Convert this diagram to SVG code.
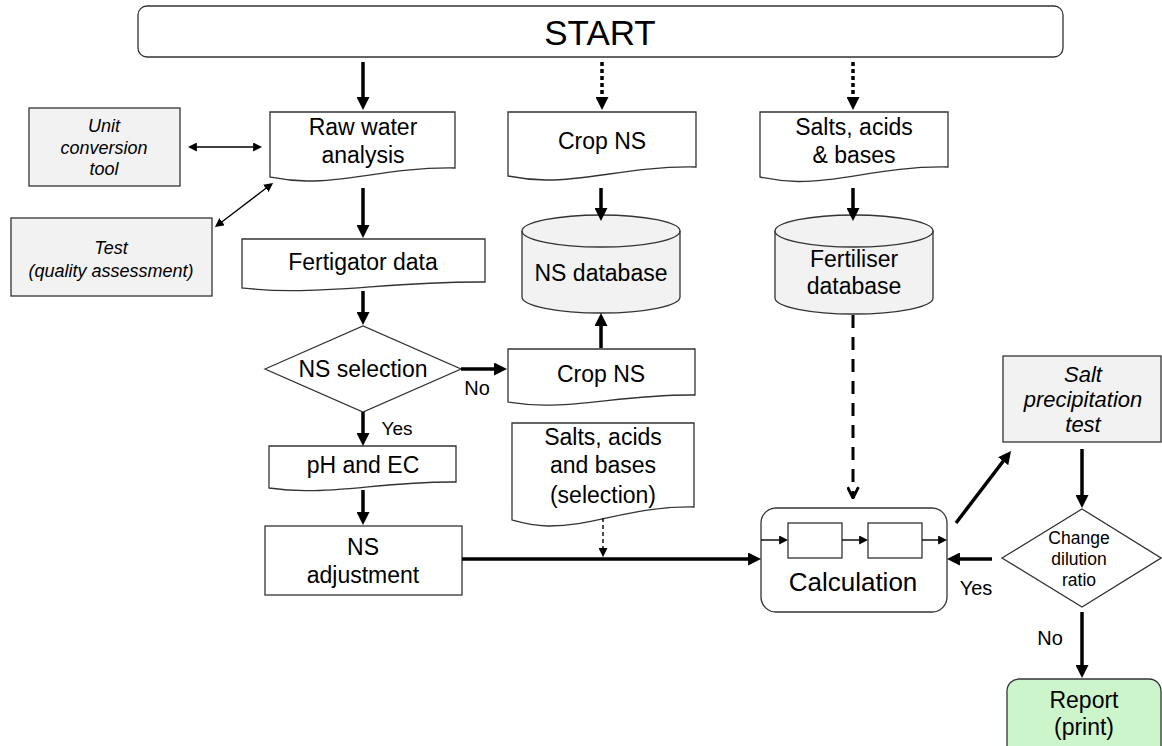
<svg xmlns="http://www.w3.org/2000/svg" width="1162" height="746" viewBox="0 0 1162 746">
<defs>
<style>
text{font-family:"Liberation Sans",Arial,sans-serif;fill:#000;text-anchor:middle}
.box{fill:#fff;stroke:#333;stroke-width:1.3}
.grey{fill:#f2f2f2;stroke:#333;stroke-width:1.3}
.green{fill:#cdf5cc;stroke:#333;stroke-width:1.3}
.f23{font-size:23px}
.it{font-style:italic}
.thick{stroke:#000;stroke-width:3.5;fill:none;marker-end:url(#ah)}
.dot{stroke:#000;stroke-width:3.5;fill:none;stroke-dasharray:4 3;marker-end:url(#ah)}
.dash{stroke:#000;stroke-width:3;fill:none;stroke-dasharray:13 9;marker-end:url(#chev)}
.thin{stroke:#000;stroke-width:1.4;fill:none;marker-end:url(#as)}
.thin2{stroke:#000;stroke-width:1.4;fill:none;marker-end:url(#as);marker-start:url(#as)}
.thindash{stroke:#000;stroke-width:1.4;fill:none;stroke-dasharray:4 3;marker-end:url(#as)}
</style>
<marker id="ah" viewBox="0 0 10 10" refX="1.5" refY="5" markerWidth="13" markerHeight="13" markerUnits="userSpaceOnUse" orient="auto"><path d="M0,0 L10,5 L0,10 Z" fill="#000"/></marker>
<marker id="as" viewBox="0 0 10 10" refX="1" refY="5" markerWidth="9" markerHeight="9" markerUnits="userSpaceOnUse" orient="auto-start-reverse"><path d="M0,0 L10,5 L0,10 Z" fill="#000"/></marker>
<marker id="chev" viewBox="0 0 12 12" refX="11" refY="6" markerWidth="13" markerHeight="13" markerUnits="userSpaceOnUse" orient="auto"><path d="M1,1 L11,6 L1,11" fill="none" stroke="#000" stroke-width="2.6"/></marker>
</defs>
<rect width="1162" height="746" fill="#fff"/>

<g id="start">
<rect class="box" x="138" y="6" width="925" height="51" rx="9"/>
<text x="600" y="45" style="font-size:35px">START</text>
</g>

<g id="unit-conversion">
<rect class="grey" x="29" y="108" width="151" height="78"/>
<text class="it" style="font-size:18px" x="104" y="132">Unit</text>
<text class="it" style="font-size:18px" x="104" y="154">conversion</text>
<text class="it" style="font-size:18px" x="104" y="175">tool</text>
</g>

<g id="test">
<rect class="grey" x="11" y="218" width="201" height="78"/>
<text class="it" style="font-size:18px" x="111" y="254">Test</text>
<text class="it" style="font-size:18px" x="111" y="277">(quality assessment)</text>
</g>

<g id="raw-water">
<path class="box" d="M270,112 H455 V168 C390,167 353,181.5 307,181 C288.5,180.8 279,178.8 270,177 Z"/>
<text class="f23" x="363" y="135">Raw water</text>
<text class="f23" x="363" y="163">analysis</text>
</g>

<g id="crop-ns-top">
<path class="box" d="M508,112 H696 V167 C630,166 593,180.5 546,180 C527,179.8 517,177.8 508,176 Z"/>
<text class="f23" x="602" y="149">Crop NS</text>
</g>

<g id="salts-top">
<path class="box" d="M760,112 H948 V167 C882,166 845,182 798,181.5 C779,181.2 769,179 760,177 Z"/>
<text class="f23" x="854" y="135">Salts, acids</text>
<text class="f23" x="854" y="163">&amp; bases</text>
</g>

<g id="fertigator">
<path class="box" d="M242,239 H485 V282 C400,281.4 351,291 291,290.7 C266,290.5 254,289.2 242,288 Z"/>
<text class="f23" x="363" y="270">Fertigator data</text>
</g>

<g id="ns-database">
<path class="grey" d="M522,231 A79,16 0 0 1 680,231 V297 A79,16 0 0 1 522,297 Z"/>
<path d="M522,231 A79,16 0 0 0 680,231" fill="none" stroke="#333" stroke-width="1.3"/>
<text class="f23" x="601" y="281">NS database</text>
</g>

<g id="fertiliser-database">
<path class="grey" d="M775,231 A79,16 0 0 1 933,231 V298 A79,16 0 0 1 775,298 Z"/>
<path d="M775,231 A79,16 0 0 0 933,231" fill="none" stroke="#333" stroke-width="1.3"/>
<text class="f23" x="854" y="267">Fertiliser</text>
<text class="f23" x="854" y="294">database</text>
</g>

<g id="ns-selection">
<polygon class="box" points="265,369 363,326 461,369 363,412"/>
<text class="f23" x="363" y="377">NS selection</text>
</g>

<g id="crop-ns-bottom">
<path class="box" d="M508,349 H695 V395 C630,394.3 592,405.5 545,405.2 C527,405 517,403.4 508,402 Z"/>
<text class="f23" x="601" y="382">Crop NS</text>
</g>

<g id="salts-selection">
<path class="box" d="M512,423 H694 V507 C630,506 594,526.5 548,526 C530,525.5 521,522.6 512,520 Z"/>
<text class="f23" x="603" y="445">Salts, acids</text>
<text class="f23" x="603" y="473">and bases</text>
<text class="f23" x="603" y="503">(selection)</text>
</g>

<g id="ph-ec">
<path class="box" d="M269,446 H456 V482 C391,481.4 353,491 306,490.7 C288,490.5 278,489.2 269,488 Z"/>
<text class="f23" x="363" y="473">pH and EC</text>
</g>

<g id="ns-adjustment">
<rect class="box" x="265" y="526" width="197" height="69"/>
<text class="f23" x="363" y="555">NS</text>
<text class="f23" x="363" y="583">adjustment</text>
</g>

<g id="calculation">
<rect class="box" x="761" y="508" width="186" height="104" rx="15"/>
<rect class="box" x="788" y="523" width="54" height="35"/>
<rect class="box" x="868" y="523" width="54" height="35"/>
<text x="853" y="591" style="font-size:26px">Calculation</text>
</g>

<g id="salt-precipitation-test">
<rect class="grey" x="1003" y="356" width="158" height="86"/>
<text class="it" style="font-size:22px" x="1083" y="382">Salt</text>
<text class="it" style="font-size:22px" x="1083" y="407">precipitation</text>
<text class="it" style="font-size:22px" x="1083" y="432">test</text>
</g>

<g id="change-dilution">
<polygon class="box" points="1002,558 1082,509 1161,558 1082,607"/>
<text style="font-size:17.5px" x="1079" y="544">Change</text>
<text style="font-size:17.5px" x="1079" y="565">dilution</text>
<text style="font-size:17.5px" x="1079" y="586">ratio</text>
</g>

<g id="report">
<rect class="green" x="1007" y="679" width="154" height="80" rx="12"/>
<text style="font-size:23px" x="1084" y="708">Report</text>
<text style="font-size:23px" x="1084" y="735">(print)</text>
</g>

<g id="connectors">
<line class="thick" x1="363" y1="62" x2="363" y2="99"/>
<line class="dot" x1="602" y1="62" x2="602" y2="99"/>
<line class="dot" x1="853" y1="62" x2="853" y2="99"/>
<line class="thin2" x1="196" y1="147" x2="254" y2="147"/>
<line class="thin2" x1="221.4" y1="222.2" x2="266.6" y2="187.8"/>
<line class="thick" x1="363" y1="188" x2="363" y2="227"/>
<line class="thick" x1="601" y1="188" x2="601" y2="210"/>
<line class="thick" x1="853" y1="188" x2="853" y2="210"/>
<line class="thick" x1="363" y1="291" x2="363" y2="314"/>
<line class="thick" x1="601" y1="348" x2="601" y2="324"/>
<line class="thick" x1="461" y1="369" x2="496" y2="369"/>
<line class="thick" x1="363" y1="412" x2="363" y2="435"/>
<line class="thick" x1="363" y1="490" x2="363" y2="514"/>
<line class="thick" x1="462" y1="559" x2="750" y2="559"/>
<line class="thindash" x1="603" y1="518" x2="603" y2="549"/>
<line class="dash" x1="853" y1="315" x2="853" y2="498"/>
<line class="thin" x1="761" y1="540" x2="780" y2="540"/>
<line class="thin" x1="842" y1="540" x2="860" y2="540"/>
<line class="thin" x1="922" y1="540" x2="939" y2="540"/>
<line class="thick" x1="956" y1="523" x2="1004.3" y2="459.7"/>
<line class="thick" x1="1082" y1="449" x2="1082" y2="497"/>
<line class="thick" x1="992" y1="559" x2="958" y2="559"/>
<line class="thick" x1="1082" y1="612" x2="1082" y2="667"/>
<text style="font-size:20px" x="477" y="395">No</text>
<text style="font-size:19px" x="397" y="435">Yes</text>
<text style="font-size:20px" x="976" y="595">Yes</text>
<text style="font-size:20px" x="1050" y="645">No</text>
</g>
</svg>
